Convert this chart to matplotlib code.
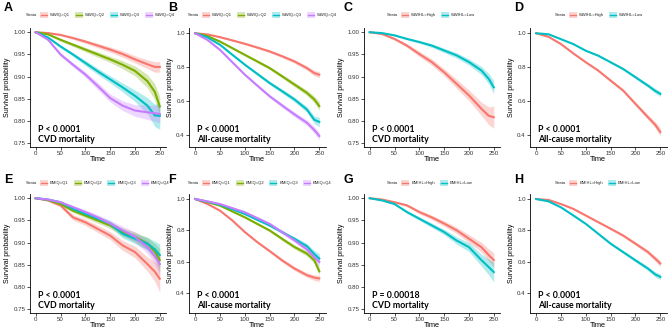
import matplotlib
matplotlib.use('Agg')
import matplotlib.pyplot as plt
from matplotlib.patches import Rectangle
from matplotlib.lines import Line2D

plt.rcParams['font.family'] = ['Liberation Sans', 'DejaVu Sans']

# time points
time = [0, 25, 50, 75, 100, 125, 150, 175, 200, 225, 240, 250]

# A: WWI quartiles, CVD mortality
a_q1 = [1.0, 0.998, 0.994, 0.987, 0.979, 0.970, 0.961, 0.951, 0.939, 0.928, 0.922, 0.922]
a_q2 = [1.0, 0.995, 0.983, 0.972, 0.961, 0.950, 0.939, 0.927, 0.913, 0.890, 0.866, 0.833]
a_q3 = [1.0, 0.988, 0.968, 0.950, 0.931, 0.912, 0.894, 0.876, 0.857, 0.835, 0.813, 0.812]
a_q4 = [1.0, 0.983, 0.950, 0.927, 0.905, 0.879, 0.852, 0.835, 0.824, 0.820, 0.818, 0.816]
a_ci = [[0, .001, .002, .003, .004, .005, .006, .007, .008, .010, .012, .012],
        [0, .001, .003, .004, .005, .006, .007, .009, .011, .015, .018, .022],
        [0, .002, .003, .004, .006, .007, .008, .010, .013, .018, .025, .030],
        [0, .002, .004, .005, .006, .008, .009, .011, .013, .016, .018, .020]]

# B: WWI quartiles, all-cause mortality
b_q1 = [1.0, 0.993, 0.977, 0.958, 0.938, 0.916, 0.893, 0.865, 0.834, 0.795, 0.765, 0.756]
b_q2 = [1.0, 0.983, 0.951, 0.912, 0.873, 0.834, 0.795, 0.747, 0.698, 0.649, 0.610, 0.571]
b_q3 = [1.0, 0.975, 0.932, 0.873, 0.815, 0.761, 0.707, 0.659, 0.610, 0.551, 0.490, 0.478]
b_q4 = [1.0, 0.960, 0.902, 0.829, 0.756, 0.692, 0.629, 0.575, 0.522, 0.473, 0.430, 0.395]
b_ci = [[0, .002, .003, .005, .006, .007, .008, .009, .011, .013, .016, .018],
        [0, .002, .004, .005, .007, .008, .009, .011, .013, .016, .020, .025],
        [0, .002, .004, .006, .007, .009, .010, .012, .014, .017, .022, .028],
        [0, .003, .004, .006, .008, .009, .010, .012, .014, .016, .020, .022]]

# C: WWI high/low, CVD mortality
c_high = [1.0, 0.996, 0.985, 0.970, 0.951, 0.933, 0.910, 0.884, 0.858, 0.828, 0.812, 0.809]
c_low = [1.0, 0.998, 0.993, 0.985, 0.978, 0.970, 0.959, 0.948, 0.933, 0.914, 0.895, 0.876]
c_ci = [[0, .002, .003, .004, .006, .007, .008, .010, .012, .015, .020, .025],
        [0, .001, .002, .002, .003, .004, .005, .006, .007, .009, .012, .015]]

# D: WWI high/low, all-cause mortality
d_high = [1.0, 0.979, 0.936, 0.881, 0.829, 0.780, 0.721, 0.663, 0.584, 0.506, 0.460, 0.418]
d_low = [1.0, 0.994, 0.965, 0.936, 0.897, 0.868, 0.829, 0.790, 0.741, 0.692, 0.660, 0.643]
d_ci = [[0, .002, .003, .004, .005, .006, .008, .009, .011, .014, .018, .025],
        [0, .001, .002, .003, .004, .005, .006, .007, .009, .011, .014, .016]]

# E: BMI quartiles, CVD mortality
e_q1 = [1.0, 0.995, 0.984, 0.957, 0.946, 0.931, 0.916, 0.894, 0.879, 0.852, 0.835, 0.819]
e_q2 = [1.0, 0.996, 0.987, 0.972, 0.961, 0.950, 0.939, 0.924, 0.913, 0.898, 0.880, 0.861]
e_q3 = [1.0, 0.997, 0.991, 0.976, 0.965, 0.954, 0.943, 0.920, 0.909, 0.898, 0.885, 0.872]
e_q4 = [1.0, 0.997, 0.991, 0.980, 0.969, 0.957, 0.943, 0.928, 0.913, 0.890, 0.870, 0.852]
e_ci = [[0, .002, .004, .006, .007, .008, .009, .011, .013, .016, .022, .030],
        [0, .002, .003, .004, .005, .006, .007, .009, .011, .014, .018, .025],
        [0, .002, .003, .004, .005, .006, .007, .009, .011, .014, .018, .025],
        [0, .002, .003, .004, .005, .006, .007, .009, .011, .014, .018, .025]]

# F: BMI quartiles, all-cause mortality
f_q1 = [1.0, 0.968, 0.926, 0.863, 0.790, 0.726, 0.669, 0.610, 0.558, 0.516, 0.500, 0.495]
f_q2 = [1.0, 0.980, 0.958, 0.921, 0.884, 0.842, 0.800, 0.747, 0.695, 0.653, 0.610, 0.540]
f_q3 = [1.0, 0.983, 0.964, 0.935, 0.905, 0.868, 0.832, 0.790, 0.747, 0.700, 0.650, 0.621]
f_q4 = [1.0, 0.985, 0.968, 0.942, 0.916, 0.879, 0.842, 0.790, 0.737, 0.680, 0.630, 0.600]
f_ci = [[0, .002, .004, .005, .007, .008, .009, .011, .013, .015, .018, .020],
        [0, .002, .003, .005, .006, .008, .009, .011, .013, .016, .020, .025],
        [0, .002, .003, .004, .006, .007, .009, .011, .013, .017, .022, .030],
        [0, .002, .003, .004, .006, .007, .009, .011, .013, .017, .022, .030]]

# G: BMI high/low, CVD mortality
g_high = [1.0, 0.997, 0.991, 0.984, 0.969, 0.957, 0.943, 0.928, 0.909, 0.890, 0.872, 0.861]
g_low = [1.0, 0.995, 0.987, 0.969, 0.954, 0.939, 0.924, 0.905, 0.890, 0.861, 0.845, 0.834]
g_ci = [[0, .001, .002, .003, .004, .005, .006, .007, .009, .011, .014, .016],
        [0, .001, .002, .003, .004, .005, .006, .008, .010, .013, .018, .022]]

# H: BMI high/low, all-cause mortality
h_high = [1.0, 0.994, 0.968, 0.937, 0.895, 0.853, 0.811, 0.768, 0.716, 0.663, 0.620, 0.590]
h_low = [1.0, 0.985, 0.947, 0.895, 0.842, 0.779, 0.716, 0.663, 0.610, 0.558, 0.520, 0.505]
h_ci = [[0, .002, .003, .004, .005, .006, .007, .009, .011, .013, .016, .020],
        [0, .002, .003, .004, .005, .006, .008, .009, .011, .013, .016, .018]]

wwiq_labels = ['WWIQ=Q1', 'WWIQ=Q2', 'WWIQ=Q3', 'WWIQ=Q4']
wwihl_labels = ['WWIHL=High', 'WWIHL=Low']
bmiq_labels = ['BMIQ=Q1', 'BMIQ=Q2', 'BMIQ=Q3', 'BMIQ=Q4']
bmihl_labels = ['BMIHL=High', 'BMIHL=Low']

col4 = ['#F8766D', '#7CAE00', '#00BFC4', '#C77CFF']
col2 = ['#F8766D', '#00BFC4']

W, H = 669, 331
fig = plt.figure(figsize=(W / 100, H / 100), dpi=100)

lefts = [29.5, 189, 363.5, 530]
tops = [28, 194]
ax_w, ax_h = 136.5, 119


def px_rect(left, top, w, h):
    return [left / W, 1 - (top + h) / H, w / W, h / H]


def draw_legend(x0, yc, labels, colors):
    r = fig.canvas.get_renderer()
    x = x0
    t = fig.text(x / W, 1 - yc / H, 'Strata', fontsize=3.0, va='center', ha='left', color='#222222')
    x += t.get_window_extent(r).width + 3
    for lab, c in zip(labels, colors):
        fig.add_artist(Rectangle((x / W, 1 - (yc + 3) / H), 8 / W, 6 / H,
                                 transform=fig.transFigure, facecolor=c, alpha=0.3, edgecolor='none'))
        fig.add_artist(Line2D([(x + 1) / W, (x + 7) / W], [1 - yc / H, 1 - yc / H],
                              transform=fig.transFigure, color=c, lw=1.0))
        x += 10
        t = fig.text(x / W, 1 - yc / H, lab, fontsize=3.0, va='center', ha='left', color='#222222')
        x += t.get_window_extent(r).width + 5


panels = [
    ('A', 0, 0, [a_q1, a_q2, a_q3, a_q4], a_ci, col4, wwiq_labels, 'cvd', 'P < 0.0001', 'CVD mortality'),
    ('B', 0, 1, [b_q1, b_q2, b_q3, b_q4], b_ci, col4, wwiq_labels, 'all_top', 'P < 0.0001', 'All-cause mortality'),
    ('C', 0, 2, [c_high, c_low], c_ci, col2, wwihl_labels, 'cvd', 'P < 0.0001', 'CVD mortality'),
    ('D', 0, 3, [d_high, d_low], d_ci, col2, wwihl_labels, 'all_top', 'P < 0.0001', 'All-cause mortality'),
    ('E', 1, 0, [e_q1, e_q2, e_q3, e_q4], e_ci, col4, bmiq_labels, 'cvd', 'P < 0.0001', 'CVD mortality'),
    ('F', 1, 1, [f_q1, f_q2, f_q3, f_q4], f_ci, col4, bmiq_labels, 'all_bot', 'P < 0.0001', 'All-cause mortality'),
    ('G', 1, 2, [g_high, g_low], g_ci, col2, bmihl_labels, 'cvd', 'P = 0.00018', 'CVD mortality'),
    ('H', 1, 3, [h_high, h_low], h_ci, col2, bmihl_labels, 'all_bot', 'P < 0.0001', 'All-cause mortality'),
]

ylims = {'cvd': (0.742, 1.0095), 'all_top': (0.33, 1.031), 'all_bot': (0.275, 1.032)}
letter_x = [4, 168, 344, 514]
legend_x = [26, 188, 387, 555]

for letter, row, col, curves, cis, colors, labels, kind, ptxt, outcome in panels:
    ax = fig.add_axes(px_rect(lefts[col], tops[row], ax_w, ax_h))
    for y, ci, c in zip(curves, cis, colors):
        lo = [v - d for v, d in zip(y, ci)]
        hi = [v + d for v, d in zip(y, ci)]
        ax.fill_between(time, lo, hi, color=c, alpha=0.3, lw=0)
        ax.plot(time, y, color=c, lw=1.5)
    ax.set_xlim(-12.5, 262.5)
    ax.set_ylim(*ylims[kind])
    ax.set_xticks([0, 50, 100, 150, 200, 250])
    if kind == 'cvd':
        ax.set_yticks([0.75, 0.80, 0.85, 0.90, 0.95, 1.00])
        ax.set_yticklabels(['0.75', '0.80', '0.85', '0.90', '0.95', '1.00'])
    else:
        ax.set_yticks([0.4, 0.6, 0.8, 1.0])
        ax.set_yticklabels(['0.4', '0.6', '0.8', '1.0'])
    for s in ['top', 'right']:
        ax.spines[s].set_visible(False)
    for s in ['left', 'bottom']:
        ax.spines[s].set_linewidth(0.6)
    ax.tick_params(labelsize=4.4, length=2, width=0.6, pad=1, colors='#333333')
    ax.set_xlabel('Time', fontsize=5.3, labelpad=0)
    ax.set_ylabel('Survival probability', fontsize=5.0, labelpad=1.5)
    ax.text(0.06, 0.15, ptxt, transform=ax.transAxes, fontsize=6.3, fontweight='bold',
            family=['Lato', 'DejaVu Sans'], va='center')
    ax.text(0.06, 0.065, outcome, transform=ax.transAxes, fontsize=6.3, fontweight='bold',
            family=['Lato', 'DejaVu Sans'], va='center')
    ly = 15 if row == 0 else 183
    fig.text(letter_x[col] / W, 1 - (8 if row == 0 else 180) / H, letter, fontsize=9,
             fontweight='bold', va='center', ha='left')
    draw_legend(legend_x[col], ly, labels, colors)

fig.savefig('out.png', dpi=100)
